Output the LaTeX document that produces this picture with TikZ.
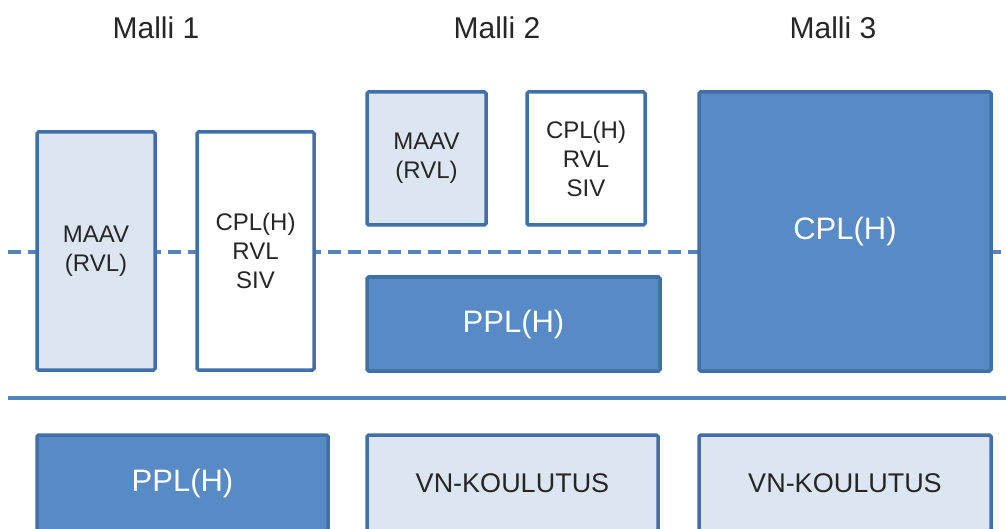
\documentclass[tikz,border=0pt]{standalone}
\usepackage{fontspec}
\setmainfont{Liberation Sans}
\definecolor{bordc}{RGB}{66,111,166}
\definecolor{darkc}{RGB}{88,138,198}
\definecolor{lightc}{RGB}{220,230,242}
\definecolor{linec}{RGB}{86,131,188}
\begin{document}
\begin{tikzpicture}[x=1pt,y=-1pt,
  box/.style={draw=bordc, line width=3.5pt, rounded corners=1.5pt, inner sep=0pt, align=center},
  lightbox/.style={box, fill=lightc, text=black!85, font=\fontsize{24}{29}\selectfont},
  whitebox/.style={box, fill=white, text=black!85, font=\fontsize{24}{29}\selectfont},
  darkbox/.style={box, fill=darkc, text=white, font=\fontsize{31}{36}\selectfont},
  vnbox/.style={box, fill=lightc, text=black!85, font=\fontsize{27}{32}\selectfont},
  title/.style={anchor=base, text=black!85, font=\fontsize{30}{36}\selectfont},
  dashline/.style={draw=linec, line width=4pt, dash pattern=on 13pt off 7pt},
  solidline/.style={draw=linec, line width=4pt}]
\useasboundingbox (0,0) rectangle (1006,529);
\clip (0,0) rectangle (1006,529);
% lines
\coordinate (dl) at (8,252);
\coordinate (dr) at (1006,252);
\coordinate (sl) at (8,398);
\coordinate (sr) at (1006,398);
\draw[dashline] (dl) -- (dr);
\draw[solidline] (sl) -- (sr);
% titles
\node[title] (t1) at (156,38.5) {Malli 1};
\node[title] (t2) at (497,38.5) {Malli 2};
\node[title] (t3) at (833,38.5) {Malli 3};
% Malli 1
\node[lightbox, minimum width=118pt, minimum height=238pt] (m1a) at (96,251) {MAAV\\(RVL)};
\node[whitebox, minimum width=117pt, minimum height=238pt] (m1b) at (255.5,251) {CPL(H)\\RVL\\SIV};
\node[darkbox, minimum width=291pt, minimum height=96pt] (m1c) at (182.5,483) {PPL(H)};
% Malli 2
\node[lightbox, minimum width=119pt, minimum height=133pt] (m2a) at (426.5,158.5) {MAAV\\(RVL)};
\node[whitebox, minimum width=118pt, minimum height=133pt] (m2b) at (586,158.5) {CPL(H)\\RVL\\SIV};
\node[darkbox, minimum width=293pt, minimum height=94pt] (m2c) at (513.5,324) {PPL(H)};
\node[vnbox, minimum width=291pt, minimum height=96pt] (m2d) at (512.5,483) {VN-KOULUTUS};
% Malli 3
\node[darkbox, minimum width=292pt, minimum height=279pt] (m3a) at (845,231.5) {CPL(H)};
\node[vnbox, minimum width=292pt, minimum height=96pt] (m3b) at (845,483) {VN-KOULUTUS};
\end{tikzpicture}
\end{document}
